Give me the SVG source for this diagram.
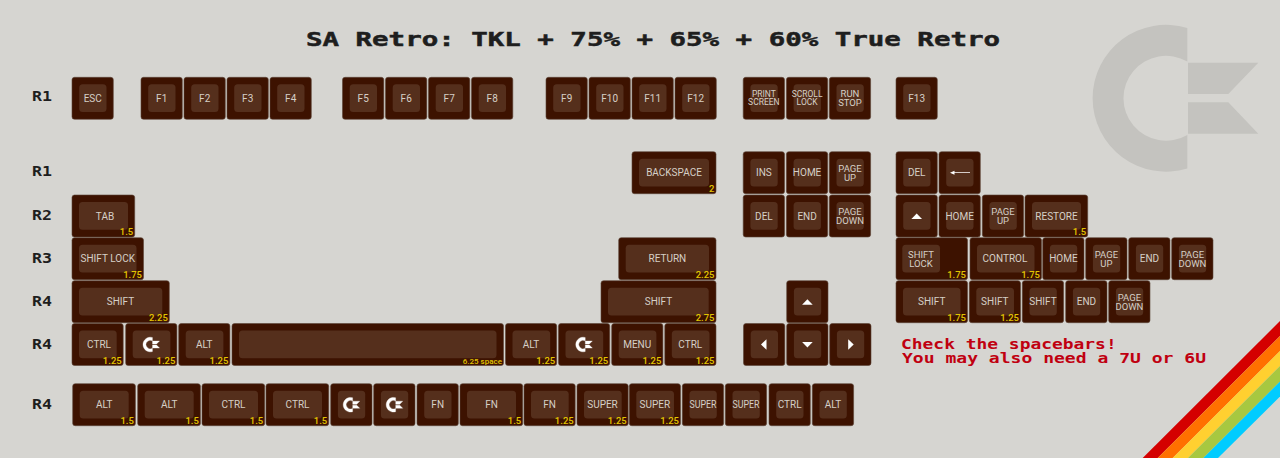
<svg xmlns="http://www.w3.org/2000/svg" xmlns:xlink="http://www.w3.org/1999/xlink" width="1280" height="458" viewBox="0 0 1280 458">
<style>
.k{fill:#3d1200;stroke:#5c4438;stroke-width:.6}
.i{fill:#552f1c}
.t{font-family:Roboto,"Liberation Sans",sans-serif;font-size:10px;fill:#d6cfc7;text-anchor:middle}
.d{font-size:9.5px}
.s{font-family:Roboto,"Liberation Sans",sans-serif;font-size:9.5px;font-weight:500;fill:#e2c400;text-anchor:end}
.p{font-family:"DejaVu Sans Mono",monospace;font-weight:700}
.r{font-size:13.5px;fill:#1e1e1e}
.w{fill:#fff}
.m{font-size:13.5px;fill:#c00010}
</style>
<defs>
<g id="logo"><path fill-rule="evenodd" d="M1187.3 28A73.4 73.4 0 1 0 1187.3 168.5V135A42.5 42.5 0 1 1 1187.3 61.5ZM1188 62.7H1258.3L1228.3 94H1188ZM1188 102.3H1228.3L1258.3 133.7H1188Z"/></g>
<g id="mini"><use href="#logo" class="w" stroke="#fff" stroke-width="3" transform="translate(-117.5,-9.8) scale(.1)"/></g>
<g id="u1"><rect class="k" width="41.3" height="42" rx="2.5"/><rect class="i" x="7.2" y="7" width="27.3" height="27.7" rx="3.5"/></g>
<g id="u125"><rect class="k" width="51.2" height="42" rx="2.5"/><rect class="i" x="7" y="7" width="37.7" height="27.7" rx="3.5"/></g>
<g id="u15"><rect class="k" width="62.7" height="42" rx="2.5"/><rect class="i" x="7" y="7" width="49" height="27.7" rx="3.5"/></g>
<g id="u175"><rect class="k" width="71.5" height="42" rx="2.5"/><rect class="i" x="7" y="7" width="57.5" height="27.7" rx="3.5"/></g>
<g id="u2"><rect class="k" width="84" height="42" rx="2.5"/><rect class="i" x="7" y="7" width="70" height="27.7" rx="3.5"/></g>
<g id="u225"><rect class="k" width="97.3" height="42" rx="2.5"/><rect class="i" x="7" y="7" width="83.3" height="27.7" rx="3.5"/></g>
<g id="u275"><rect class="k" width="115" height="42" rx="2.5"/><rect class="i" x="7" y="7" width="100.7" height="27.7" rx="3.5"/></g>
</defs>
<rect width="1280" height="458" fill="#d6d5d1"/>
<use href="#logo" fill="#c4c3bf"/>
<g id="rainbow">
<polygon fill="#d40000" points="1280,321 1280,336 1157.7,458 1142.7,458"/>
<polygon fill="#ff7000" points="1280,336 1280,351 1172.7,458 1157.7,458"/>
<polygon fill="#ffd030" points="1280,351 1280,366 1188,458 1172.7,458"/>
<polygon fill="#a8c840" points="1280,366 1280,381.5 1203.3,458 1188,458"/>
<polygon fill="#00ccff" points="1280,381.5 1280,396.5 1218,458 1203.3,458"/>
</g>
<text id="title" class="p" x="306" y="45.7" font-size="20" fill="#1e1e1e" stroke="#1e1e1e" stroke-width=".5" textLength="694" lengthAdjust="spacingAndGlyphs">SA Retro: TKL + 75% + 65% + 60% True Retro</text>
<g id="row-labels">
<text class="p r" x="32" y="101" textLength="20" lengthAdjust="spacingAndGlyphs">R1</text>
<text class="p r" x="32" y="176" textLength="20" lengthAdjust="spacingAndGlyphs">R1</text>
<text class="p r" x="32" y="220" textLength="20" lengthAdjust="spacingAndGlyphs">R2</text>
<text class="p r" x="32" y="263" textLength="20" lengthAdjust="spacingAndGlyphs">R3</text>
<text class="p r" x="32" y="306" textLength="20" lengthAdjust="spacingAndGlyphs">R4</text>
<text class="p r" x="32" y="349" textLength="20" lengthAdjust="spacingAndGlyphs">R4</text>
<text class="p r" x="32" y="409" textLength="20" lengthAdjust="spacingAndGlyphs">R4</text>
</g>
<g id="note">
<text class="p m" x="901" y="349" textLength="215.7" lengthAdjust="spacingAndGlyphs">Check the spacebars!</text>
<text class="p m" x="902" y="363.3" textLength="304" lengthAdjust="spacingAndGlyphs">You may also need a 7U or 6U</text>
</g>
<g id="connectors"></g>

<g id="esc" transform="translate(72,77.3)"><use href="#u1"/><text class="t" x="20.7" y="24.5">ESC</text></g>
<g id="f1" transform="translate(141,77.3)"><use href="#u1"/><text class="t" x="20.7" y="24.5">F1</text></g>
<g id="f2" transform="translate(184,77.3)"><use href="#u1"/><text class="t" x="20.7" y="24.5">F2</text></g>
<g id="f3" transform="translate(227,77.3)"><use href="#u1"/><text class="t" x="20.7" y="24.5">F3</text></g>
<g id="f4" transform="translate(270,77.3)"><use href="#u1"/><text class="t" x="20.7" y="24.5">F4</text></g>
<g id="f5" transform="translate(342.5,77.3)"><use href="#u1"/><text class="t" x="20.7" y="24.5">F5</text></g>
<g id="f6" transform="translate(385.5,77.3)"><use href="#u1"/><text class="t" x="20.7" y="24.5">F6</text></g>
<g id="f7" transform="translate(428.5,77.3)"><use href="#u1"/><text class="t" x="20.7" y="24.5">F7</text></g>
<g id="f8" transform="translate(471.5,77.3)"><use href="#u1"/><text class="t" x="20.7" y="24.5">F8</text></g>
<g id="f9" transform="translate(546,77.3)"><use href="#u1"/><text class="t" x="20.7" y="24.5">F9</text></g>
<g id="f10" transform="translate(589,77.3)"><use href="#u1"/><text class="t" x="20.7" y="24.5">F10</text></g>
<g id="f11" transform="translate(632,77.3)"><use href="#u1"/><text class="t" x="20.7" y="24.5">F11</text></g>
<g id="f12" transform="translate(675,77.3)"><use href="#u1"/><text class="t" x="20.7" y="24.5">F12</text></g>
<g id="print" transform="translate(743.2,77.3)"><use href="#u1"/><text class="t" x="20.7" y="19.5" style="font-size:8.5px">PRINT</text><text class="t" x="20.7" y="28" style="font-size:8.5px">SCREEN</text></g>
<g id="scroll" transform="translate(786.4,77.3)"><use href="#u1"/><text class="t" x="20.7" y="19.5" style="font-size:8.5px">SCROLL</text><text class="t" x="20.7" y="28" style="font-size:8.5px">LOCK</text></g>
<g id="run" transform="translate(829.3,77.3)"><use href="#u1"/><text class="t d" x="20.7" y="19.5">RUN</text><text class="t d" x="20.7" y="28.3">STOP</text></g>
<g id="f13" transform="translate(896,77.3)"><use href="#u1"/><text class="t" x="20.7" y="24.5">F13</text></g>

<g id="backspace" transform="translate(632,151.7)"><use href="#u2"/><text class="t" x="42" y="24.5">BACKSPACE</text><text class="s" x="82.5" y="40.3">2</text></g>
<g id="ins" transform="translate(743.2,151.7)"><use href="#u1"/><text class="t" x="20.7" y="24.5">INS</text></g>
<g id="home1" transform="translate(786.4,151.7)"><use href="#u1"/><text class="t" x="20.7" y="24.5">HOME</text></g>
<g id="pgup1" transform="translate(829.3,151.7)"><use href="#u1"/><text class="t d" x="20.7" y="20">PAGE</text><text class="t d" x="20.7" y="29">UP</text></g>
<g id="del1" transform="translate(896,151.7)"><use href="#u1"/><text class="t" x="20.7" y="24.5">DEL</text></g>
<g id="back-arrow" transform="translate(939,151.7)"><use href="#u1"/><path class="w" d="M11 21L15.5 19V20.6H31V21.4H15.5V23Z"/></g>

<g id="tab" transform="translate(72,195)"><use href="#u15"/><text class="t" x="33" y="24.5">TAB</text><text class="s" x="61.2" y="40.3">1.5</text></g>
<g id="del2" transform="translate(743.2,195)"><use href="#u1"/><text class="t" x="20.7" y="24.5">DEL</text></g>
<g id="end1" transform="translate(786.4,195)"><use href="#u1"/><text class="t" x="20.7" y="24.5">END</text></g>
<g id="pgdn1" transform="translate(829.3,195)"><use href="#u1"/><text class="t d" x="20.7" y="20">PAGE</text><text class="t d" x="20.7" y="29">DOWN</text></g>
<g id="up1" transform="translate(896,195)"><use href="#u1"/><path class="w" d="M20.7 18.5L26 24H15.4Z"/></g>
<g id="home2" transform="translate(939,195)"><use href="#u1"/><text class="t" x="20.7" y="24.5">HOME</text></g>
<g id="pgup2" transform="translate(982.3,195)"><use href="#u1"/><text class="t d" x="20.7" y="20">PAGE</text><text class="t d" x="20.7" y="29">UP</text></g>
<g id="restore" transform="translate(1025,195)"><use href="#u15"/><text class="t" x="31.5" y="24.5">RESTORE</text><text class="s" x="61.2" y="40.3">1.5</text></g>

<g id="shiftlock1" transform="translate(72,237.7)"><use href="#u175"/><text class="t" x="35.75" y="24.5">SHIFT LOCK</text><text class="s" x="70" y="40.3">1.75</text></g>
<g id="return" transform="translate(618.7,237.7)"><use href="#u225"/><text class="t" x="48.65" y="24.5">RETURN</text><text class="s" x="95.8" y="40.3">2.25</text></g>
<g id="shiftlock2" transform="translate(896,237.7)"><rect class="k" width="71.5" height="42" rx="2.5"/><rect class="i" x="6.3" y="7" width="37.7" height="27.7" rx="3.5"/><text class="t d" x="25" y="20">SHIFT</text><text class="t d" x="25" y="29">LOCK</text><text class="s" x="70" y="40.3">1.75</text></g>
<g id="control" transform="translate(970,237.7)"><use href="#u175"/><text class="t" x="35" y="24.5">CONTROL</text><text class="s" x="70" y="40.3">1.75</text></g>
<g id="home3" transform="translate(1042.7,237.7)"><use href="#u1"/><text class="t" x="20.7" y="24.5">HOME</text></g>
<g id="pgup3" transform="translate(1085.7,237.7)"><use href="#u1"/><text class="t d" x="20.7" y="20">PAGE</text><text class="t d" x="20.7" y="29">UP</text></g>
<g id="end2" transform="translate(1128.7,237.7)"><use href="#u1"/><text class="t" x="20.7" y="24.5">END</text></g>
<g id="pgdn2" transform="translate(1171.7,237.7)"><use href="#u1"/><text class="t d" x="20.7" y="20">PAGE</text><text class="t d" x="20.7" y="29">DOWN</text></g>

<g id="shift1" transform="translate(72,280.7)"><use href="#u225"/><text class="t" x="48.5" y="24.5">SHIFT</text><text class="s" x="95.8" y="40.3">2.25</text></g>
<g id="shift2" transform="translate(601,280.7)"><use href="#u275"/><text class="t" x="57.5" y="24.5">SHIFT</text><text class="s" x="113.5" y="40.3">2.75</text></g>
<g id="up2" transform="translate(786.7,280.7)"><use href="#u1"/><path class="w" d="M20.7 18.5L26 24H15.4Z"/></g>
<g id="shift3" transform="translate(896,280.7)"><use href="#u175"/><text class="t" x="35.7" y="24.5">SHIFT</text><text class="s" x="70" y="40.3">1.75</text></g>
<g id="shift4" transform="translate(969.3,280.7)"><use href="#u125"/><text class="t" x="25.5" y="24.5">SHIFT</text><text class="s" x="49.7" y="40.3">1.25</text></g>
<g id="shift5" transform="translate(1022.3,280.7)"><use href="#u1"/><text class="t" x="20.7" y="24.5">SHIFT</text></g>
<g id="end3" transform="translate(1065.7,280.7)"><use href="#u1"/><text class="t" x="20.7" y="24.5">END</text></g>
<g id="pgdn3" transform="translate(1108.7,280.7)"><use href="#u1"/><text class="t d" x="20.7" y="20">PAGE</text><text class="t d" x="20.7" y="29">DOWN</text></g>

<g id="ctrl1" transform="translate(72,323.5)"><use href="#u125"/><text class="t" x="27" y="24.5">CTRL</text><text class="s" x="49.7" y="40.3">1.25</text></g>
<g id="cbm1" transform="translate(125.7,323.5)"><use href="#u125"/><use href="#mini" x="25.5" y="21"/><text class="s" x="49.7" y="40.3">1.25</text></g>
<g id="alt1" transform="translate(178.7,323.5)"><use href="#u125"/><text class="t" x="25.5" y="24.5">ALT</text><text class="s" x="49.7" y="40.3">1.25</text></g>
<g id="space" transform="translate(232,323.5)"><rect class="k" width="271.5" height="42" rx="2.5"/><rect class="i" x="7" y="7" width="257.5" height="27.7" rx="3.5"/><text class="s" x="270" y="40.3" style="font-size:8px">6.25 space</text></g>
<g id="alt2" transform="translate(505.5,323.5)"><use href="#u125"/><text class="t" x="25.5" y="24.5">ALT</text><text class="s" x="49.7" y="40.3">1.25</text></g>
<g id="cbm2" transform="translate(558.5,323.5)"><use href="#u125"/><use href="#mini" x="25.5" y="21"/><text class="s" x="49.7" y="40.3">1.25</text></g>
<g id="menu" transform="translate(611.7,323.5)"><use href="#u125"/><text class="t" x="25.5" y="24.5">MENU</text><text class="s" x="49.7" y="40.3">1.25</text></g>
<g id="ctrl2" transform="translate(664.8,323.5)"><use href="#u125"/><text class="t" x="25.5" y="24.5">CTRL</text><text class="s" x="49.7" y="40.3">1.25</text></g>
<g id="left" transform="translate(743.5,323.5)"><use href="#u1"/><path class="w" d="M17.5 21L23 15.7V26.3Z"/></g>
<g id="down" transform="translate(786.7,323.5)"><use href="#u1"/><path class="w" d="M20.7 24L26 18.5H15.4Z"/></g>
<g id="right" transform="translate(829.7,323.5)"><use href="#u1"/><path class="w" d="M24 21L18.5 15.7V26.3Z"/></g>

<g id="alt3" transform="translate(72.7,383.7)"><use href="#u15"/><text class="t" x="31.5" y="24.5">ALT</text><text class="s" x="61.2" y="40.3">1.5</text></g>
<g id="alt4" transform="translate(137.7,383.7)"><use href="#u15"/><text class="t" x="31.5" y="24.5">ALT</text><text class="s" x="61.2" y="40.3">1.5</text></g>
<g id="ctrl3" transform="translate(202,383.7)"><use href="#u15"/><text class="t" x="31.5" y="24.5">CTRL</text><text class="s" x="61.2" y="40.3">1.5</text></g>
<g id="ctrl4" transform="translate(266,383.7)"><use href="#u15"/><text class="t" x="31.5" y="24.5">CTRL</text><text class="s" x="61.2" y="40.3">1.5</text></g>
<g id="cbm3" transform="translate(330.7,383.7)"><use href="#u1"/><use href="#mini" x="20.7" y="21"/></g>
<g id="cbm4" transform="translate(373.7,383.7)"><use href="#u1"/><use href="#mini" x="20.7" y="21"/></g>
<g id="fn1" transform="translate(417,383.7)"><use href="#u1"/><text class="t" x="20.7" y="24.5">FN</text></g>
<g id="fn2" transform="translate(460,383.7)"><use href="#u15"/><text class="t" x="31.5" y="24.5">FN</text><text class="s" x="61.2" y="40.3">1.5</text></g>
<g id="fn3" transform="translate(524,383.7)"><use href="#u125"/><text class="t" x="25.5" y="24.5">FN</text><text class="s" x="49.7" y="40.3">1.25</text></g>
<g id="super1" transform="translate(577,383.7)"><use href="#u125"/><text class="t" x="25.5" y="24.5">SUPER</text><text class="s" x="49.7" y="40.3">1.25</text></g>
<g id="super2" transform="translate(629.3,383.7)"><use href="#u125"/><text class="t" x="25.5" y="24.5">SUPER</text><text class="s" x="49.7" y="40.3">1.25</text></g>
<g id="super3" transform="translate(682.3,383.7)"><use href="#u1"/><text class="t" x="20.7" y="24.5" textLength="27" lengthAdjust="spacingAndGlyphs">SUPER</text></g>
<g id="super4" transform="translate(725.3,383.7)"><use href="#u1"/><text class="t" x="20.7" y="24.5" textLength="27" lengthAdjust="spacingAndGlyphs">SUPER</text></g>
<g id="ctrl5" transform="translate(769,383.7)"><use href="#u1"/><text class="t" x="20.7" y="24.5">CTRL</text></g>
<g id="alt5" transform="translate(812.3,383.7)"><use href="#u1"/><text class="t" x="20.7" y="24.5">ALT</text></g>
</svg>
